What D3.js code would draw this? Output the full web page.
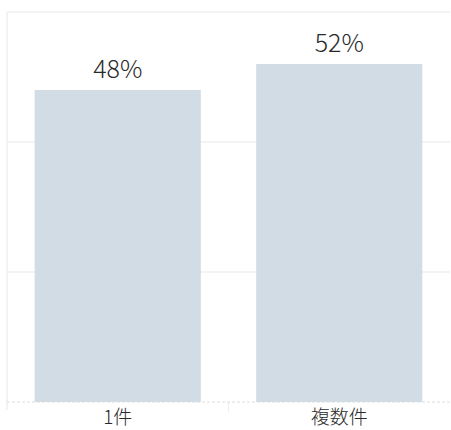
<!DOCTYPE html>
<html>
<head>
<meta charset="utf-8">
<script src="https://d3js.org/d3.v7.min.js"></script>
<style>
  body { margin: 0; background: #fff; }
  text { font-family: "Noto Sans CJK JP", "Noto Sans", sans-serif; fill: #2a2a2a; font-weight: 300; }
</style>
</head>
<body>
  <div id="my_dataviz"></div>
  <script>
    var categories = ["1件", "複数件"];
    var values = [48, 52];
    var yTicks = [0, 20, 40, 60];

    var margin = {top: 12, right: 1, bottom: 28, left: 7},
        width = 451 - margin.left - margin.right,
        height = 430 - margin.top - margin.bottom;

    var svg = d3.select("#my_dataviz")
      .append("svg")
      .attr("width", width + margin.left + margin.right)
      .attr("height", height + margin.top + margin.bottom)
      .append("g")
      .attr("transform", "translate(" + margin.left + "," + margin.top + ")");

    var x = d3.scaleBand()
      .domain(categories)
      .range([0, width])
      .paddingInner(0.25)
      .paddingOuter(0.125);

    var y = d3.scaleLinear()
      .domain([0, 60])
      .range([height, 0]);

    // gridlines
    svg.selectAll("line.grid")
      .data(yTicks.filter(function(d) { return d > 0; }))
      .enter()
      .append("line")
      .attr("class", "grid")
      .attr("x1", 0)
      .attr("x2", width)
      .attr("y1", function(d) { return y(d); })
      .attr("y2", function(d) { return y(d); })
      .style("stroke", "#efefef")
      .style("stroke-width", 1.5);

    // left axis line
    svg.append("line")
      .attr("x1", 0).attr("x2", 0)
      .attr("y1", 0).attr("y2", height + 8)
      .style("stroke", "#efefef")
      .style("stroke-width", 1.5);

    // category dividers
    var step = x.step();
    svg.selectAll("line.div")
      .data(categories.slice(1))
      .enter()
      .append("line")
      .attr("class", "div")
      .attr("x1", function(d) { return x(d) - x.paddingInner() * step / 2; })
      .attr("x2", function(d) { return x(d) - x.paddingInner() * step / 2; })
      .attr("y1", height)
      .attr("y2", height + 10)
      .style("stroke", "#efefef");

    svg.selectAll("rect")
      .data(values)
      .enter()
      .append("rect")
      .attr("x", function(d, i) { return x(categories[i]); })
      .attr("width", x.bandwidth())
      .attr("y", function(d) { return y(d); })
      .attr("height", function(d) { return height - y(d); })
      .style("fill", "#d1dce5");

    // baseline (dashed)
    svg.append("line")
      .attr("x1", 0).attr("x2", width)
      .attr("y1", height).attr("y2", height)
      .style("stroke", "#dcdcdc")
      .style("stroke-dasharray", "3,2");

    svg.selectAll("text.val")
      .data(values)
      .enter()
      .append("text")
      .attr("class", "val")
      .attr("x", function(d, i) { return x(categories[i]) + x.bandwidth() / 2; })
      .attr("y", function(d) { return y(d) - 12; })
      .attr("text-anchor", "middle")
      .style("font-size", "25px")
      .text(function(d) { return d + "%"; });

    svg.selectAll("text.cat")
      .data(categories)
      .enter()
      .append("text")
      .attr("class", "cat")
      .attr("x", function(d) { return x(d) + x.bandwidth() / 2; })
      .attr("y", height + 22)
      .attr("text-anchor", "middle")
      .style("font-size", "19px")
      .text(function(d) { return d; });
  </script>
</body>
</html>
